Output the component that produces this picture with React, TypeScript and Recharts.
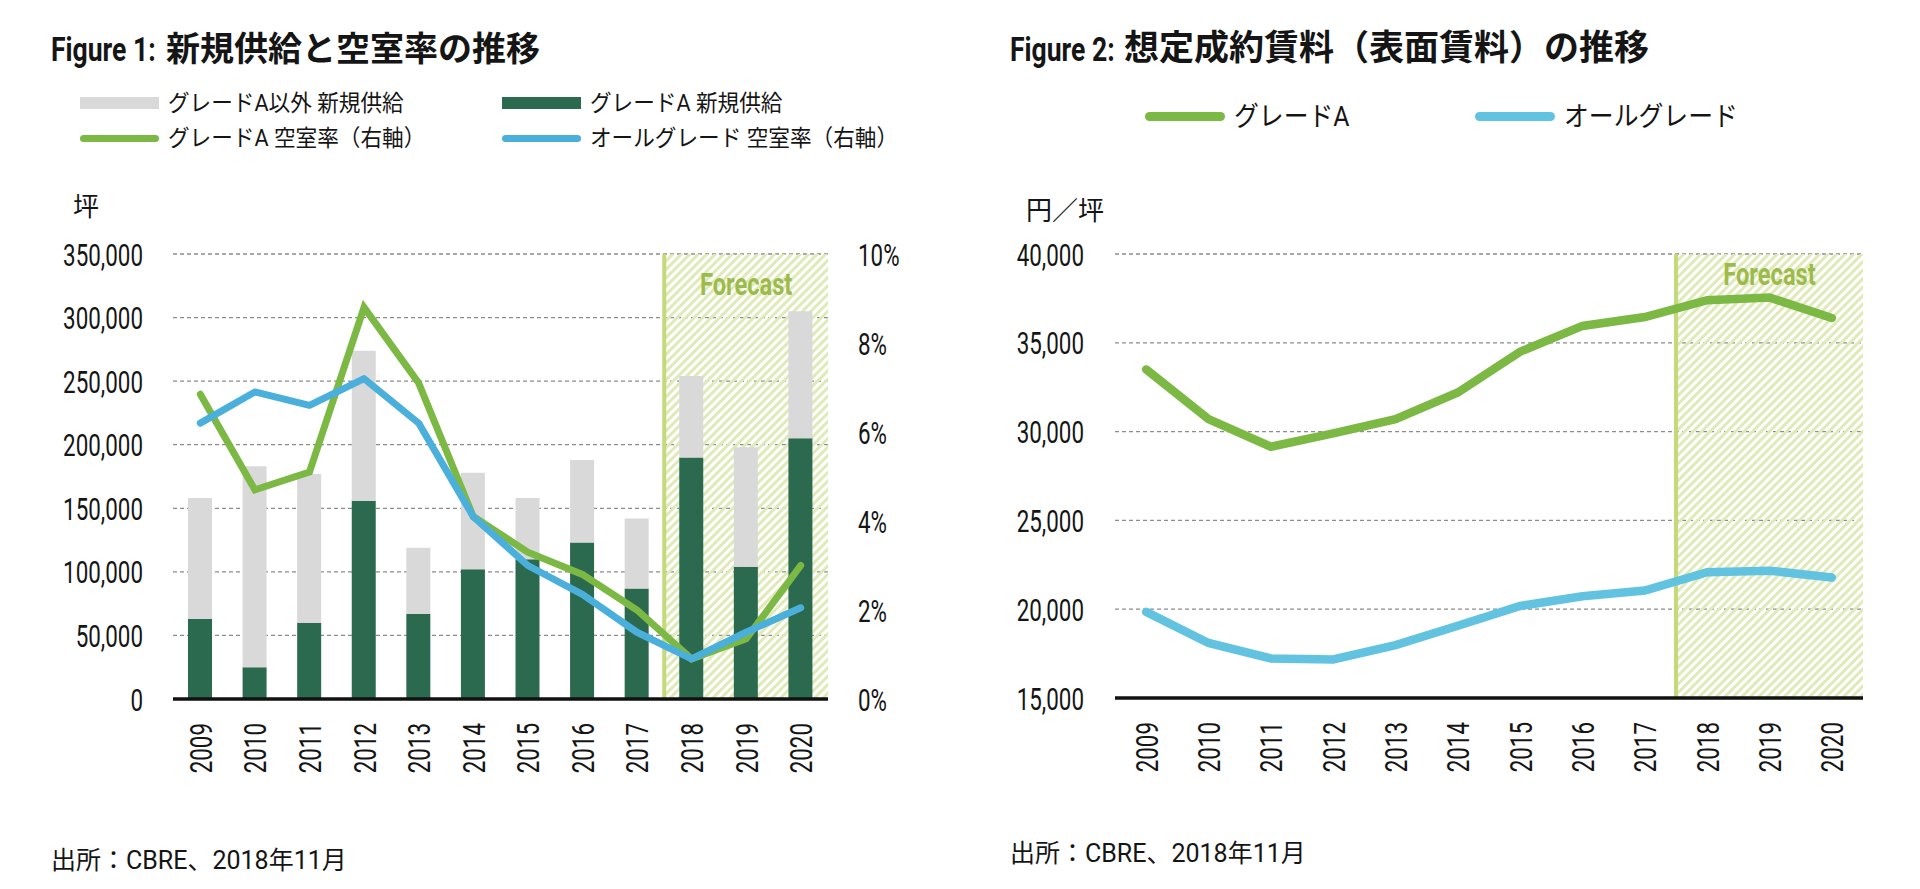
import {
  ComposedChart,
  LineChart,
  Bar,
  Line,
  XAxis,
  YAxis,
  CartesianGrid,
  ReferenceArea,
  ReferenceLine,
} from 'recharts'

// --- data ---
const years = ['2009', '2010', '2011', '2012', '2013', '2014', '2015', '2016', '2017', '2018', '2019', '2020']
const forecastFrom = '2018'
const forecastTo = '2020'

// Figure 1: 新規供給 (坪) と 空室率 (%)
const gradeASupply = [63000, 25000, 60000, 156000, 67000, 102000, 110000, 123000, 87000, 190000, 104000, 205000]
const otherSupply = [95000, 158000, 117000, 118000, 52000, 76000, 48000, 65000, 55000, 64000, 94000, 100000]
const gradeAVacancy = [6.85, 4.7, 5.1, 8.8, 7.1, 4.1, 3.3, 2.8, 2.0, 0.9, 1.35, 3.0]
const allGradeVacancy = [6.2, 6.9, 6.6, 7.2, 6.2, 4.1, 3.0, 2.35, 1.5, 0.9, 1.5, 2.05]
const supplyTicks = [0, 50000, 100000, 150000, 200000, 250000, 300000, 350000]
const vacancyTicks = [0, 2, 4, 6, 8, 10]

// Figure 2: 想定成約賃料 (円/坪)
const rentGradeA = [33500, 30700, 29150, 29900, 30700, 32200, 34500, 35950, 36450, 37400, 37550, 36400]
const rentAllGrade = [19850, 18100, 17230, 17170, 17980, 19070, 20180, 20730, 21050, 22080, 22170, 21780]
const rentTicks = [15000, 20000, 25000, 30000, 35000, 40000]

const supplyData = years.map((year, i) => ({
  year,
  gradeA: gradeASupply[i],
  other: otherSupply[i],
  vacA: gradeAVacancy[i],
  vacAll: allGradeVacancy[i],
}))

const rentData = years.map((year, i) => ({
  year,
  gradeA: rentGradeA[i],
  all: rentAllGrade[i],
}))

const C = {
  dark: '#2b6a4f',
  gray: '#d9d9d9',
  green: '#7cb844',
  blue1: '#4bafdc',
  blue2: '#62c3e0',
  grid: '#8c8c8c',
  fcLine: '#c4da7a',
  fcText: '#9dbb4b',
  hatch: '#dfeab8',
  text: '#151515',
}

const COND = "Roboto, 'Noto Sans CJK JP', sans-serif"
const JP = "Roboto, 'Noto Sans CJK JP', sans-serif"
const SQUEEZE = 0.7

const supplyLegend = [
  { label: 'グレードA以外 新規供給', color: C.gray, kind: 'bar' },
  { label: 'グレードA 新規供給', color: C.dark, kind: 'bar' },
  { label: 'グレードA 空室率（右軸）', color: C.green, kind: 'line' },
  { label: 'オールグレード 空室率（右軸）', color: C.blue1, kind: 'line' },
]
const rentLegend = [
  { label: 'グレードA', color: C.green },
  { label: 'オールグレード', color: C.blue2 },
]

const fmt = (v: number) => v.toLocaleString('en-US')
const pct = (v: number) => `${v}%`

function Txt({ x, cy, size, children, weight = 400, scale = 1, h = 44, family = JP }: any) {
  return (
    <div
      style={{
        position: 'absolute',
        left: x,
        top: cy - h / 2,
        height: h,
        lineHeight: `${h}px`,
        fontSize: size,
        fontWeight: weight,
        fontFamily: family,
        color: C.text,
        whiteSpace: 'nowrap',
        transform: `scaleX(${scale})`,
        transformOrigin: 'left center',
      }}
    >
      {children}
    </div>
  )
}

// narrow, tall numerals like the original condensed face
function NumTick({ x, y, payload, textAnchor, format }: any) {
  return (
    <text
      transform={`translate(${x},${y}) scale(${SQUEEZE},1)`}
      textAnchor={textAnchor}
      dy="0.36em"
      fill={C.text}
      fontSize={32}
      fontFamily={COND}
    >
      {format(payload.value)}
    </text>
  )
}

function YearTick({ x, y, payload }: any) {
  return (
    <text
      transform={`translate(${x},${y}) rotate(-90) scale(${SQUEEZE},1)`}
      textAnchor="end"
      dy="0.36em"
      fill={C.text}
      fontSize={32}
      fontFamily={COND}
    >
      {payload.value}
    </text>
  )
}

const forecastLabel = (dy: number) => (props: any) => {
  const vb = props.viewBox
  if (!vb) return null
  return (
    <text
      transform={`translate(${vb.x + vb.width / 2},${vb.y + dy}) scale(0.74,1)`}
      textAnchor="middle"
      dy="0.36em"
      fill={C.fcText}
      fontSize={32}
      fontWeight={700}
      fontFamily={COND}
    >
      Forecast
    </text>
  )
}

function Hatch({ id }: { id: string }) {
  return (
    <defs>
      <pattern id={id} width="6" height="6" patternUnits="userSpaceOnUse" patternTransform="rotate(45)">
        <rect x="0" y="0" width="3" height="6" fill={C.hatch} />
      </pattern>
    </defs>
  )
}

function Title({ x, cjkX, num, text, size = 34 }: { x: number; cjkX: number; num: string; text: string; size?: number }) {
  return (
    <>
      <Txt x={x} cy={49} size={34} weight={700} scale={0.78} family={COND}>
        {num}
      </Txt>
      <Txt x={cjkX} cy={49} size={size} weight={700}>
        {text}
      </Txt>
    </>
  )
}

export default function App() {
  return (
    <div
      style={{
        position: 'fixed',
        left: 0,
        top: 0,
        width: 1920,
        height: 889,
        background: '#fff',
        overflow: 'hidden',
      }}
    >
      {/* Figure 1 */}
      <div style={{ position: 'absolute', left: 0, top: 0 }}>
        <ComposedChart width={960} height={889} data={supplyData} margin={{ top: 254, right: 0, bottom: 110, left: 0 }}>
          <Hatch id="hatch1" />
          <CartesianGrid vertical={false} stroke={C.grid} strokeWidth={1.3} strokeDasharray="4 3" />
          <ReferenceArea
            x1={forecastFrom}
            x2={forecastTo}
            fill="url(#hatch1)"
            fillOpacity={1}
            stroke="none"
            ifOverflow="visible"
            label={forecastLabel(29)}
          />
          <XAxis
            dataKey="year"
            height={80}
            interval={0}
            tickLine={false}
            tickSize={0}
            tickMargin={24}
            axisLine={{ stroke: '#111', strokeWidth: 3.5 }}
            tick={<YearTick />}
          />
          <YAxis
            width={173}
            domain={[0, 350000]}
            ticks={supplyTicks}
            axisLine={false}
            tickLine={false}
            tickSize={0}
            tickMargin={30}
            tick={<NumTick format={fmt} />}
          />
          <YAxis
            yAxisId="pct"
            orientation="right"
            width={132}
            domain={[0, 10]}
            ticks={vacancyTicks}
            axisLine={false}
            tickLine={false}
            tickSize={0}
            tickMargin={30}
            tick={<NumTick format={pct} />}
          />
          <ReferenceLine x={forecastFrom} position="start" stroke={C.fcLine} strokeWidth={4} ifOverflow="visible" />
          <Bar dataKey="gradeA" stackId="s" fill={C.dark} barSize={24} isAnimationActive={false} />
          <Bar dataKey="other" stackId="s" fill={C.gray} barSize={24} isAnimationActive={false} />
          <Line
            yAxisId="pct"
            type="linear"
            dataKey="vacA"
            stroke={C.green}
            strokeWidth={7}
            strokeLinecap="round"
            dot={false}
            isAnimationActive={false}
          />
          <Line
            yAxisId="pct"
            type="linear"
            dataKey="vacAll"
            stroke={C.blue1}
            strokeWidth={7}
            strokeLinecap="round"
            strokeLinejoin="round"
            dot={false}
            isAnimationActive={false}
          />
        </ComposedChart>
      </div>

      <Title x={51} cjkX={166} num="Figure 1:" text="新規供給と空室率の推移" />
      {supplyLegend.map((item, i) => {
        const col = i % 2
        const row = Math.floor(i / 2)
        const sx = col === 0 ? 80 : 502
        const cy = row === 0 ? 103 : 138
        return (
          <div key={item.label}>
            <div
              style={{
                position: 'absolute',
                left: sx,
                top: item.kind === 'bar' ? cy - 6 : cy - 3.5,
                width: 79,
                height: item.kind === 'bar' ? 12 : 7,
                borderRadius: item.kind === 'bar' ? 0 : 4,
                background: item.color,
              }}
            />
            <Txt x={sx + 88} cy={cy + 1} size={23} scale={0.94}>
              {item.label}
            </Txt>
          </div>
        )
      })}
      <Txt x={73} cy={207} size={26}>
        坪
      </Txt>
      <Txt x={51} cy={861} size={25}>
        出所：CBRE、2018年11月
      </Txt>

      {/* Figure 2 */}
      <div style={{ position: 'absolute', left: 960, top: 0 }}>
        <LineChart width={960} height={889} data={rentData} margin={{ top: 254, right: 57, bottom: 111, left: 0 }}>
          <Hatch id="hatch2" />
          <CartesianGrid vertical={false} stroke={C.grid} strokeWidth={1.3} strokeDasharray="4 3" />
          <ReferenceArea
            x1={forecastFrom}
            x2={forecastTo}
            fill="url(#hatch2)"
            fillOpacity={1}
            stroke="none"
            ifOverflow="visible"
            label={forecastLabel(19)}
          />
          <XAxis
            dataKey="year"
            scale="band"
            height={80}
            interval={0}
            tickLine={false}
            tickSize={0}
            tickMargin={24}
            axisLine={{ stroke: '#111', strokeWidth: 3.5 }}
            tick={<YearTick />}
          />
          <YAxis
            width={155}
            domain={[15000, 40000]}
            ticks={rentTicks}
            axisLine={false}
            tickLine={false}
            tickSize={0}
            tickMargin={31}
            tick={<NumTick format={fmt} />}
          />
          <ReferenceLine x={forecastFrom} position="start" stroke={C.fcLine} strokeWidth={4} ifOverflow="visible" />
          <Line
            type="linear"
            dataKey="gradeA"
            stroke={C.green}
            strokeWidth={8.5}
            strokeLinecap="round"
            dot={false}
            isAnimationActive={false}
          />
          <Line
            type="linear"
            dataKey="all"
            stroke={C.blue2}
            strokeWidth={8.5}
            strokeLinecap="round"
            dot={false}
            isAnimationActive={false}
          />
        </LineChart>
      </div>

      <Title x={1010} cjkX={1124} num="Figure 2:" text="想定成約賃料（表面賃料）の推移" size={35} />
      {rentLegend.map((item, i) => {
        const sx = i === 0 ? 1145 : 1475
        return (
          <div key={item.label}>
            <div
              style={{
                position: 'absolute',
                left: sx,
                top: 116 - 4.5,
                width: 80,
                height: 9,
                borderRadius: 5,
                background: item.color,
              }}
            />
            <Txt x={sx + 89} cy={117} size={27} scale={0.92}>
              {item.label}
            </Txt>
          </div>
        )
      })}
      <Txt x={1026} cy={211} size={26}>
        円／坪
      </Txt>
      <Txt x={1010} cy={854} size={25}>
        出所：CBRE、2018年11月
      </Txt>
    </div>
  )
}
